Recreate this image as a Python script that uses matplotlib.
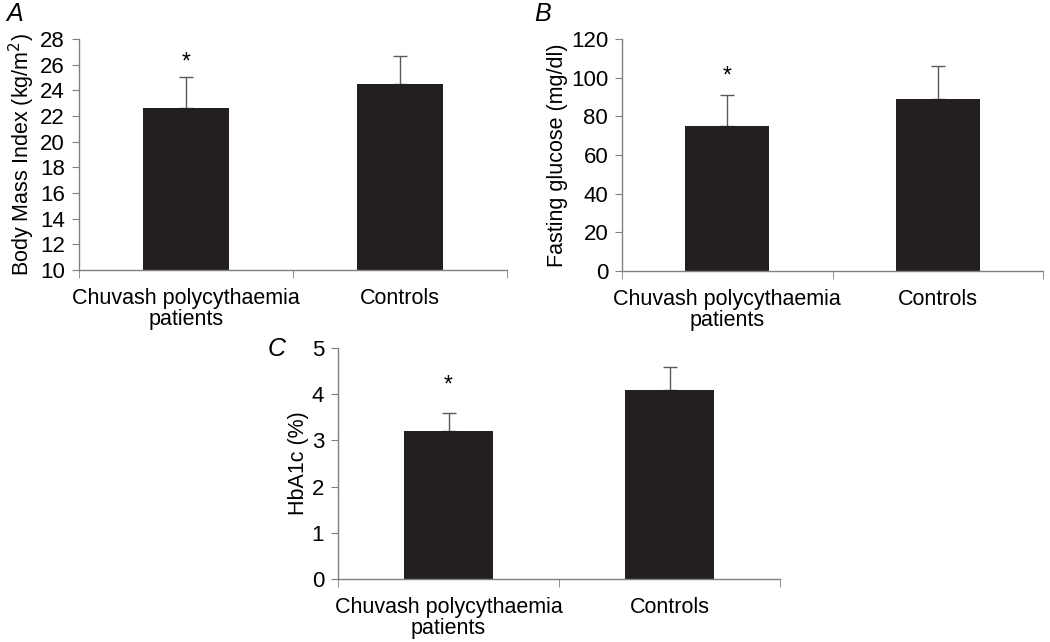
import numpy as np
import matplotlib
matplotlib.use("Agg")
from matplotlib import pyplot as plt

plt.rcParams['font.family'] = ['Liberation Sans', 'DejaVu Sans']

categories = ["Chuvash polycythaemia\npatients", "Controls"]

bmi_means = [22.6, 24.5]
bmi_err = [2.4, 2.2]

glucose_means = [75, 89]
glucose_err = [16, 17]

hba1c_means = [3.2, 4.1]
hba1c_err = [0.4, 0.5]

star_bmi = 26.2
star_glucose = 101
star_hba1c = 4.2

BAR_COL = '#231f20'
AX_COL = '#808080'
FS = 15.5


def Draw_Panel(ax, means, errs, ylim, yticks, ylabel, star_y):
	x = np.arange(len(means)) + 0.5
	ax.bar(x, means, width=0.4, color=BAR_COL, zorder=2)
	ax.errorbar(x, means, yerr=[np.zeros(len(errs)), errs], fmt='none',
				ecolor='#5a5a5a', elinewidth=1, capsize=5, capthick=1, zorder=1)
	ax.text(x[0], star_y, '*', ha='center', va='center', fontsize=FS + 1)
	ax.set_xlim(0, 2)
	ax.set_ylim(*ylim)
	ax.set_yticks(yticks)
	ax.set_xticks(x)
	ax.set_xticklabels(categories, fontsize=FS, linespacing=1.0)
	ax.set_xticks([0, 1, 2], minor=True)
	ax.tick_params(axis='x', which='major', length=0, pad=13)
	ax.tick_params(axis='x', which='minor', length=6, direction='out', color=AX_COL)
	ax.tick_params(axis='y', length=5, direction='out', color=AX_COL, labelsize=16, pad=5)
	ax.set_ylabel(ylabel, fontsize=FS, labelpad=2)
	for s in ['top', 'right']:
		ax.spines[s].set_visible(False)
	for s in ['left', 'bottom']:
		ax.spines[s].set_color(AX_COL)
		ax.spines[s].set_linewidth(1)


fig = plt.figure(figsize=(10.5, 6.42), dpi=100)

axA = fig.add_axes([0.0752, 0.5794, 0.4076, 0.3599])
Draw_Panel(axA, bmi_means, bmi_err, (10, 28), np.arange(10, 29, 2),
		   'Body Mass Index (kg/m$^2$)', star_bmi)

axB = fig.add_axes([0.5924, 0.5779, 0.4010, 0.3614])
Draw_Panel(axB, glucose_means, glucose_err, (0, 120), np.arange(0, 121, 20),
		   'Fasting glucose (mg/dl)', star_glucose)

axC = fig.add_axes([0.3219, 0.0981, 0.4210, 0.3598])
Draw_Panel(axC, hba1c_means, hba1c_err, (0, 5), np.arange(0, 6, 1),
		   'HbA1c (%)', star_hba1c)

fig.text(0.006, 0.978, 'A', fontsize=18, style='italic', va='center', ha='left')
fig.text(0.509, 0.978, 'B', fontsize=18, style='italic', va='center', ha='left')
fig.text(0.255, 0.457, 'C', fontsize=18, style='italic', va='center', ha='left')

fig.savefig('out.png', dpi=100)
